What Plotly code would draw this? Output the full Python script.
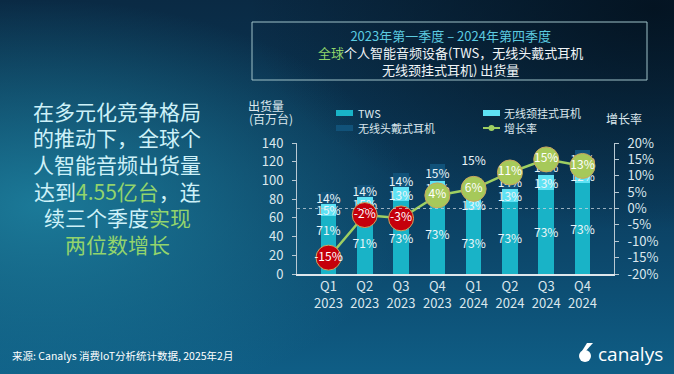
import base64
import plotly.graph_objects as go

# ---------------- data ----------------
quarters = ["Q1<br>2023", "Q2<br>2023", "Q3<br>2023", "Q4<br>2023",
            "Q1<br>2024", "Q2<br>2024", "Q3<br>2024", "Q4<br>2024"]
tws = [62.1, 67.8, 78.5, 85.8, 67.9, 77.4, 89.8, 97.1]          # 百万台
neckband = [13.1, 14.3, 14.0, 14.1, 12.1, 13.8, 16.0, 16.0]
headphones = [12.3, 13.4, 15.0, 17.6, 13.5, 14.8, 17.2, 19.9]
tws_share = ["71%<br>\u00a0<br>\u00a0", "71%", "73%", "73%", "73%", "73%", "73%", "73%"]
neck_share = ["15%", "15%", "13%", "12%", "13%", "13%", "13%", "12%"]
head_share = ["14%", "14%", "14%", "15%", "15%<br>\u00a0", "14%", "14%", "15%"]
growth = [-15, -2, -3, 4, 6, 11, 15, 13]                           # %
growth_labels = ["-15%", "-2%", "-3%", "4%", "6%", "11%", "15%", "13%"]
pct_ticks = [-20, -15, -10, -5, 0, 5, 10, 15, 20]
pct_tick_labels = ["-20%", "-15%", "-10%", "-5%", "0%", "5%", "10%", "15%", "20%"]

left_lines = [
    "在多元化竞争格局",
    "的推动下，全球个",
    "人智能音频出货量",
    "达到<span style='color:#93d46c'>4.55亿台</span>，连",
    "续三个季度<span style='color:#93d46c'>实现</span>",
    "<span style='color:#93d46c'>两位数增长</span>",
]

# ---------------- style ----------------
W, H = 674, 374
PL, PR, PT, PB = 297, 614, 143, 274
FONT = "Noto Sans CJK SC, Noto Sans, sans-serif"
C_TWS = "#19b3c7"
C_NECK = "#5ee2f4"
C_HEAD = "#115279"
C_LINE = "#9ecf62"
TXT = "#dbe7ed"


def px(x):
    return (x - PL) / (PR - PL)


def py(y):
    return (PB - y) / (PB - PT)


svg = f"""<svg xmlns='http://www.w3.org/2000/svg' width='{W}' height='{H}' viewBox='0 0 {W} {H}' preserveAspectRatio='none'>
<defs>
<linearGradient id='v' x1='0' y1='0' x2='0' y2='1'>
<stop offset='0' stop-color='#0a2a44'/><stop offset='0.55' stop-color='#0b3f61'/><stop offset='1' stop-color='#0f5e86'/>
</linearGradient>
<radialGradient id='l' cx='0.06' cy='0.55' r='0.55'>
<stop offset='0' stop-color='#1e84a2' stop-opacity='0.85'/><stop offset='1' stop-color='#1e84a2' stop-opacity='0'/>
</radialGradient>
<radialGradient id='d' cx='0.97' cy='0.02' r='0.6'>
<stop offset='0' stop-color='#03101c' stop-opacity='0.85'/><stop offset='1' stop-color='#03101c' stop-opacity='0'/>
</radialGradient>
</defs>
<rect width='{W}' height='{H}' fill='url(#v)'/>
<rect width='{W}' height='{H}' fill='url(#l)'/>
<rect width='{W}' height='{H}' fill='url(#d)'/>
</svg>"""
bg_src = "data:image/svg+xml;base64," + base64.b64encode(svg.encode()).decode()

fig = go.Figure()

bar_common = dict(textposition="inside", insidetextanchor="middle", textangle=0,
                  constraintext="none", cliponaxis=False, showlegend=False,
                  textfont=dict(size=12, color="#eaf5f8", family=FONT),
                  hoverinfo="skip")
fig.add_trace(go.Bar(x=quarters, y=tws, text=tws_share,
                     marker=dict(color=C_TWS, line=dict(width=0)),
                     name="TWS", **bar_common))
fig.add_trace(go.Bar(x=quarters, y=neckband, text=neck_share,
                     marker=dict(color=C_NECK, line=dict(width=0)),
                     name="无线颈挂式耳机", **bar_common))
head_pos = ["inside", "inside", "inside", "inside", "outside", "inside", "inside", "inside"]
hc = dict(bar_common)
hc["textposition"] = head_pos
hc["outsidetextfont"] = dict(size=12, color="#eaf5f8", family=FONT)
fig.add_trace(go.Bar(x=quarters, y=headphones, text=head_share,
                     marker=dict(color=C_HEAD, line=dict(width=0)),
                     name="无线头戴式耳机", **hc))

marker_colors = ["#c5000b" if g < 0 else "#a6c95a" for g in growth]
fig.add_trace(go.Scatter(
    x=quarters, y=growth, yaxis="y2", mode="lines+markers+text",
    text=growth_labels, textposition="middle center",
    textfont=dict(size=12, color="#ffffff", family=FONT),
    line=dict(color=C_LINE, width=2.5),
    marker=dict(size=25, color=marker_colors, line=dict(color="#c9a55e", width=1)),
    cliponaxis=False, showlegend=False, name="增长率", hoverinfo="skip"))

shapes = [
    # 0% reference line
    dict(type="line", xref="paper", yref="y2", x0=0, x1=1, y0=0, y1=0,
         line=dict(color="rgba(200,212,222,0.75)", width=1, dash="dot"), layer="above"),
    # title box
    dict(type="rect", xref="paper", yref="paper", x0=px(252), x1=px(647), y0=py(80), y1=py(22),
         line=dict(color="#9fc2c8", width=1), fillcolor="rgba(0,0,0,0)"),
    # legend swatches
    dict(type="rect", xref="paper", yref="paper", x0=px(336), x1=px(353), y0=py(116), y1=py(110),
         line_width=0, fillcolor=C_TWS),
    dict(type="rect", xref="paper", yref="paper", x0=px(336), x1=px(353), y0=py(131), y1=py(125),
         line_width=0, fillcolor=C_HEAD),
    dict(type="rect", xref="paper", yref="paper", x0=px(483), x1=px(500), y0=py(116), y1=py(110),
         line_width=0, fillcolor=C_NECK),
    dict(type="line", xref="paper", yref="paper", x0=px(483), x1=px(500), y0=py(128), y1=py(128),
         line=dict(color=C_LINE, width=2)),
    dict(type="circle", xref="paper", yref="paper", x0=px(488.5), x1=px(494.5), y0=py(131), y1=py(125),
         line_width=0, fillcolor=C_LINE),
    # canalys logo glyph
    dict(type="circle", xref="paper", yref="paper", x0=px(579), x1=px(591), y0=py(362), y1=py(350),
         line_width=0, fillcolor="#ffffff"),
    dict(type="path", xref="paper", yref="paper",
         path=f"M {px(579.5)} {py(355)} L {px(587)} {py(343)} L {px(593)} {py(343)} L {px(584)} {py(353)} Z",
         line_width=0, fillcolor="#ffffff"),
]

ann = []


def add_text(x, y, text, size, color=TXT, xanchor="center", **kw):
    ann.append(dict(x=px(x), y=py(y), xref="paper", yref="paper", text=text, showarrow=False,
                    xanchor=xanchor, yanchor="middle",
                    font=dict(size=size, color=color, family=FONT), **kw))


# title
add_text(450, 52, "<span style='color:#5ccbe0'>2023年第一季度 – 2024年第四季度</span><br>"
         "<span style='color:#8fd36b'>全球</span>个人智能音频设备(TWS，无线头戴式耳机<br>"
         "无线颈挂式耳机) 出货量", 13, color="#f0f5f7")
# left text
for i, line in enumerate(left_lines):
    add_text(117, 110.7 + i * 26.6, line, 21, color="#cdf1f8")
# legend labels
add_text(356, 113, "TWS", 11, xanchor="left")
add_text(356, 128, "无线头戴式耳机", 11, xanchor="left")
add_text(502, 113, "无线颈挂式耳机", 11, xanchor="left")
add_text(502, 128, "增长率", 11, xanchor="left")
# axis titles
add_text(266, 105, "出货量", 12)
add_text(271, 118, "(百万台)", 12)
add_text(624, 119, "增长率", 12)
# footer
add_text(10, 355, "来源: Canalys 消费IoT分析统计数据, 2025年2月", 10.5, color="#ffffff", xanchor="left")
ann.append(dict(x=px(596), y=py(354), xref="paper", yref="paper", text="canalys", showarrow=False,
                xanchor="left", yanchor="middle",
                font=dict(size=19, color="#ffffff", family="Open Sans, sans-serif")))

fig.update_layout(
    width=W, height=H,
    margin=dict(l=PL, r=W - PR, t=PT, b=H - PB, pad=0),
    paper_bgcolor="#0b3d5d", plot_bgcolor="rgba(0,0,0,0)",
    barmode="stack", bargap=0.57,
    font=dict(family=FONT, color=TXT),
    xaxis=dict(type="category", showline=True, linecolor="#dfe7ec", linewidth=1.5,
               ticks="", tickfont=dict(size=13, color=TXT), showgrid=False, zeroline=False,
               fixedrange=True),
    yaxis=dict(range=[0, 140], dtick=20, showline=True, linecolor="#b9c9d3", linewidth=1,
               ticks="outside", ticklen=4, tickcolor="#b9c9d3", ticklabelstandoff=6,
               tickfont=dict(size=13, color=TXT), showgrid=False, zeroline=False),
    yaxis2=dict(range=[-20, 20], tickvals=pct_ticks, ticktext=pct_tick_labels,
                overlaying="y", side="right", showline=True, linecolor="#b9c9d3", linewidth=1,
                ticks="outside", ticklen=4, tickcolor="#b9c9d3", ticklabelstandoff=6,
                tickfont=dict(size=13, color=TXT), showgrid=False, zeroline=False),
    shapes=shapes, annotations=ann,
    images=[dict(source=bg_src, xref="paper", yref="paper", x=px(0), y=py(0),
                 sizex=W / (PR - PL), sizey=H / (PB - PT), xanchor="left", yanchor="top",
                 sizing="stretch", layer="below")],
)

fig.write_html("out.html", config={"displayModeBar": False},
               post_script="document.body.style.margin='0';")
